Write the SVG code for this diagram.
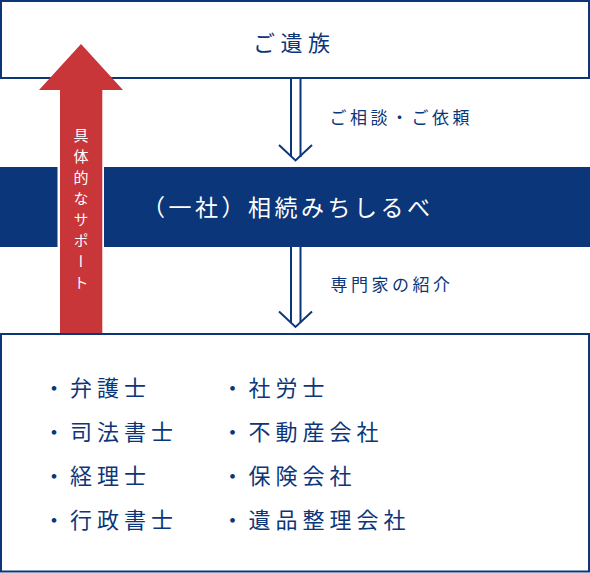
<svg xmlns="http://www.w3.org/2000/svg" width="590" height="573" viewBox="0 0 590 573">
  <style>
    .box { fill: #ffffff; stroke: #0b3679; stroke-width: 2; }
    .navy { fill: #0b3679; }
    .t { font-family: "Noto Sans CJK JP", "Noto Sans", sans-serif; fill: #0b3679; }
    .big { font-size: 22px; letter-spacing: 5.5px; }
    .band { font-size: 23px; letter-spacing: 3.5px; fill: #ffffff; }
    .lbl { font-size: 17px; letter-spacing: 3.5px; }
    .li { font-size: 22px; letter-spacing: 5px; }
    .vt { font-family: "Noto Sans CJK JP", "Noto Sans", sans-serif; font-size: 15px; letter-spacing: 6px; fill: #ffffff; writing-mode: vertical-rl; text-orientation: upright; }
    .conn { fill: none; stroke: #0b3679; stroke-width: 2; }
  </style>

  <g id="family">
    <rect class="box" x="1" y="1" width="588" height="77"/>
    <text class="t big" x="253" y="51">ご遺族</text>
  </g>

  <g id="association">
    <rect class="navy" x="0" y="167" width="590" height="80"/>
    <text class="t band" x="142" y="216">（一社）相続みちしるべ</text>
  </g>

  <g id="experts">
    <rect class="box" x="1" y="334" width="588" height="237.5"/>
    <text class="t li" x="43" y="396">・弁護士</text>
    <text class="t li" x="43" y="440">・司法書士</text>
    <text class="t li" x="43" y="484">・経理士</text>
    <text class="t li" x="43" y="527.5">・行政書士</text>
    <text class="t li" x="221.5" y="396">・社労士</text>
    <text class="t li" x="221.5" y="440">・不動産会社</text>
    <text class="t li" x="221.5" y="484">・保険会社</text>
    <text class="t li" x="221.5" y="527.5">・遺品整理会社</text>
  </g>

  <g id="connectors">
    <line class="conn" x1="291" y1="79" x2="291" y2="157"/>
    <line class="conn" x1="300.5" y1="79" x2="300.5" y2="157"/>
    <polyline class="conn" points="279,145 295.5,160.5 312,145"/>
    <text class="t lbl" x="329.5" y="124">ご相談・ご依頼</text>

    <line class="conn" x1="291" y1="247" x2="291" y2="323"/>
    <line class="conn" x1="300.5" y1="247" x2="300.5" y2="323"/>
    <polyline class="conn" points="279,311.5 295.5,327 312,311.5"/>
    <text class="t lbl" x="330.5" y="290.5">専門家の紹介</text>
  </g>

  <g id="support-arrow">
    <rect x="57.5" y="167" width="46.5" height="80" fill="#ffffff"/>
    <polygon points="81,44 123,90 102.3,90 102.3,333 60,333 60,90 39,90" fill="#c8363a"/>
    <text class="vt" x="81" y="128">具体的なサポート</text>
  </g>
</svg>
